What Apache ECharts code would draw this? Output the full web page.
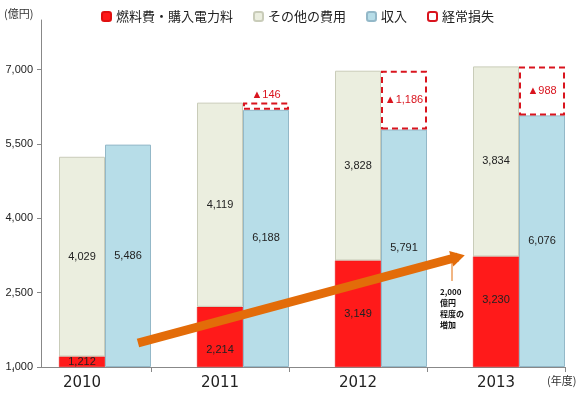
<!DOCTYPE html>
<html>
<head>
<meta charset="utf-8">
<script src="https://cdn.jsdelivr.net/npm/echarts@6/dist/echarts.min.js"></script>
<style>
html, body { margin: 0; padding: 0; background: #fff; }
#main { width: 583px; height: 396px; }
</style>
</head>
<body>
<div id="main"></div>
<script>
// 年度
var years = ['2010', '2011', '2012', '2013'];
// 燃料費・購入電力料 (億円)
var fuel = [1212, 2214, 3149, 3230];
// その他の費用
var other = [4029, 4119, 3828, 3834];
// 収入
var revenue = [5486, 6188, 5791, 6076];
// 経常損失
var loss = [null, 146, 1186, 988];
// y軸の目盛
var yTicks = [1000, 2500, 4000, 5500, 7000];

// 燃料費ラベルの上下ずれ (px)
var fuelLabelShift = [0, 13, 0, -12];

var fmt = function (v) { return Number(v).toLocaleString('en-US'); };
var font = '"Noto Sans CJK JP", "Liberation Sans", sans-serif';
var numFont = '"Liberation Sans", sans-serif';

var myChart = echarts.init(document.getElementById('main'));

var fuelData = fuel.map(function (v, i) {
    return { value: v, label: { offset: [0, fuelLabelShift[i]] } };
});

var lossData = loss.map(function (v) {
    if (v == null) return '-';
    // 小さい箱はラベルを上に出す
    if (v < 500) return { value: v, label: { position: 'top', distance: 2 } };
    return v;
});

myChart.setOption({
    animation: false,
    textStyle: { fontFamily: font },
    legend: {
        top: 5,
        left: 96,
        itemWidth: 9,
        itemHeight: 9,
        itemGap: 20,
        textStyle: { fontSize: 13, color: '#222', fontFamily: font },
        data: ['燃料費・購入電力料', 'その他の費用', '収入', '経常損失']
    },
    graphic: [
        { type: 'text', left: 4, top: 8, style: { text: '(億円)', fontSize: 11, fill: '#333', fontFamily: font } },
        { type: 'text', left: 547, top: 375, style: { text: '(年度)', fontSize: 11, fill: '#333', fontFamily: font } },
        { type: 'text', left: 440, top: 286, style: { text: '2,000\n億円\n程度の\n増加', fontSize: 8, lineHeight: 11, fill: '#111', fontWeight: 'bold', fontFamily: font } },
        { type: 'line', shape: { x1: 452, y1: 263, x2: 452, y2: 281 }, style: { stroke: '#E36C09', lineWidth: 1 } }
    ],
    grid: [
        { left: 13, right: 18, top: 20, bottom: 29 },
        { left: 41, right: 18, top: 20, bottom: 29 }
    ],
    xAxis: [
        {
            type: 'category',
            gridIndex: 0,
            data: years,
            axisLine: { show: false },
            axisTick: { show: true, length: 5, lineStyle: { color: '#888' } },
            axisLabel: { fontSize: 15, color: '#222', margin: 9, fontFamily: '"DejaVu Sans", sans-serif' }
        },
        {
            type: 'value',
            gridIndex: 1,
            min: 0,
            max: 1,
            axisLine: { show: true, lineStyle: { color: '#888' } },
            axisTick: { show: false },
            axisLabel: { show: false },
            splitLine: { show: false }
        }
    ],
    yAxis: [
        {
            type: 'value',
            gridIndex: 0,
            min: 1000,
            max: 8000,
            startValue: 1000,
            show: false,
            splitLine: { show: false }
        },
        {
            type: 'value',
            gridIndex: 1,
            min: 1000,
            max: 8000,
            axisLine: { show: true, lineStyle: { color: '#888' } },
            axisTick: { show: true, length: 4, customValues: yTicks, lineStyle: { color: '#888' } },
            axisLabel: { customValues: yTicks, formatter: fmt, fontSize: 11, color: '#222', margin: 8, fontFamily: numFont },
            splitLine: { show: false }
        }
    ],
    series: [
        {
            // 左側の空き
            name: 'pad',
            type: 'bar',
            stack: 'pad',
            data: years.map(function () { return '-'; }),
            barGap: '0%',
            barCategoryGap: '0%',
            silent: true,
            markLine: {
                silent: true,
                z: 20,
                symbol: ['none', 'triangle'],
                symbolSize: [16, 14],
                label: { show: false },
                lineStyle: { color: '#E36C09', width: 9, type: 'solid', opacity: 1 },
                emphasis: { disabled: true },
                data: [[{ x: 138, y: 343 }, { x: 458, y: 257 }]]
            }
        },
        {
            name: '燃料費・購入電力料',
            type: 'bar',
            stack: 'cost',
            data: fuelData,
            barGap: '0%',
            barCategoryGap: '0%',
            itemStyle: { color: '#FF1A1A', borderColor: '#e01010', borderWidth: 0.5 },
            label: { show: true, position: 'inside', formatter: function (p) { return fmt(p.value); }, fontSize: 11, color: '#222', fontFamily: numFont }
        },
        {
            name: 'その他の費用',
            type: 'bar',
            stack: 'cost',
            data: other,
            barGap: '0%',
            barCategoryGap: '0%',
            itemStyle: { color: '#EBEEDF', borderColor: '#c9ccb9', borderWidth: 1 },
            label: { show: true, position: 'inside', formatter: function (p) { return fmt(p.value); }, fontSize: 11, color: '#222', fontFamily: numFont }
        },
        {
            name: '収入',
            type: 'bar',
            stack: 'rev',
            data: revenue,
            barGap: '0%',
            barCategoryGap: '0%',
            itemStyle: { color: '#B7DDE8', borderColor: '#93b8c8', borderWidth: 1 },
            label: { show: true, position: 'inside', formatter: function (p) { return fmt(p.value); }, fontSize: 11, color: '#222', fontFamily: numFont }
        },
        {
            name: '経常損失',
            type: 'bar',
            stack: 'rev',
            data: lossData,
            barGap: '0%',
            barCategoryGap: '0%',
            itemStyle: { color: '#ffffff', borderColor: '#D9141E', borderWidth: 2, borderType: [6, 4] },
            label: { show: true, position: 'inside', formatter: function (p) { return '▲' + fmt(p.value); }, fontSize: 11, color: '#D9141E', fontFamily: numFont }
        }
    ]
});
</script>
</body>
</html>
